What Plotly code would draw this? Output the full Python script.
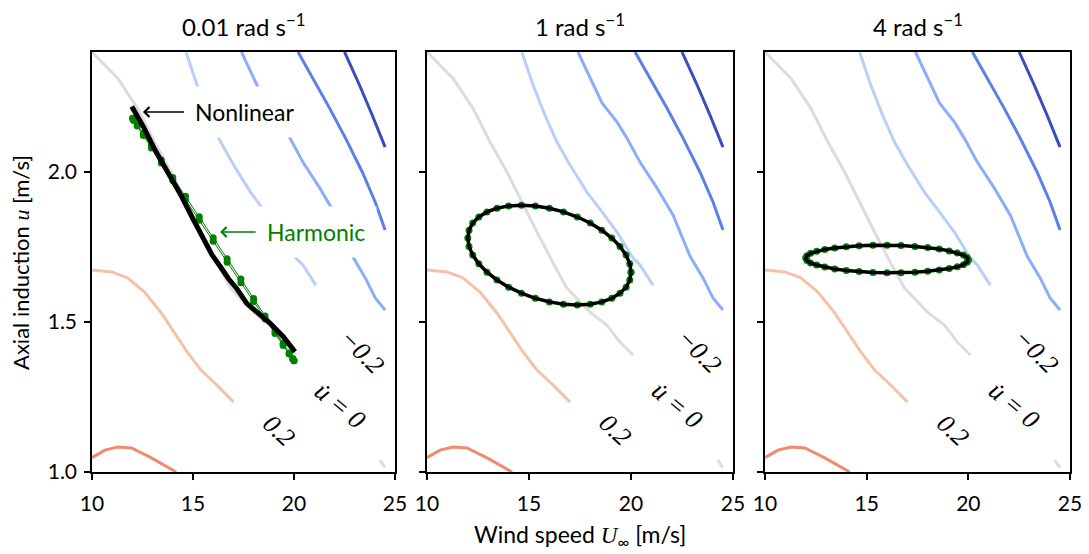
import plotly.graph_objects as go

# ---------------- data ----------------
panel_titles = ["0.01 rad s<sup>−1</sup>", "1 rad s<sup>−1</sup>", "4 rad s<sup>−1</sup>"]
x_ticks = [10, 15, 20, 25]
y_ticks = [1.0, 1.5, 2.0]
y_tick_text = ["1.0", "1.5", "2.0"]

# contour lines of du/dt (same background in every panel)
contour_levels = [-0.8, -0.6, -0.4, -0.2, 0.0, 0.0, 0.2, 0.4]
contour_colors = ["#3a4cc0", "#5d7fe8", "#8cadfa", "#b9cff8", "#dcdcdc", "#dcdcdc", "#f5c2a9", "#ef8c6e"]
c_m08_U = [22.5, 23.24, 23.87, 24.51]
c_m08_u = [2.40, 2.29, 2.19, 2.083]
c_m06_U = [20.20, 20.93, 21.76, 22.55, 23.38, 24.02, 24.51]
c_m06_u = [2.40, 2.313, 2.213, 2.113, 2.0, 1.90, 1.807]
c_m04_U = [17.40, 17.99, 18.58, 19.31, 19.80, 20.44, 21.27, 22.06, 22.89, 23.53, 24.02, 24.51]
c_m04_u = [2.40, 2.313, 2.23, 2.167, 2.113, 2.033, 1.947, 1.857, 1.72, 1.647, 1.58, 1.54]
c_m02_U = [14.65, 15.20, 15.78, 16.37, 17.01, 17.84, 18.58, 19.31, 20.10, 20.44, 21.08]
c_m02_u = [2.40, 2.29, 2.19, 2.10, 2.023, 1.933, 1.867, 1.80, 1.713, 1.69, 1.623]
c_0a_U = [10.0, 10.15, 11.27, 12.25, 13.09, 13.92, 14.71, 15.39, 16.18, 16.86, 17.99, 18.82, 19.46, 20.10]
c_0a_u = [2.40, 2.39, 2.313, 2.213, 2.10, 2.0, 1.89, 1.80, 1.697, 1.613, 1.533, 1.49, 1.433, 1.39]
c_0b_U = [24.25, 24.5]
c_0b_u = [1.04, 1.015]
c_p02_U = [10.0, 10.98, 11.76, 12.60, 13.43, 14.07, 14.71, 15.39, 16.18, 17.01]
c_p02_u = [1.673, 1.667, 1.647, 1.60, 1.53, 1.467, 1.40, 1.34, 1.29, 1.233]
c_p04_U = [10.0, 10.64, 11.27, 11.96, 12.94, 14.17]
c_p04_u = [1.048, 1.073, 1.083, 1.08, 1.047, 1.0]
contour_U = [c_m08_U, c_m06_U, c_m04_U, c_m02_U, c_0a_U, c_0b_U, c_p02_U, c_p04_U]
contour_u = [c_m08_u, c_m06_u, c_m04_u, c_m02_u, c_0a_u, c_0b_u, c_p02_u, c_p04_u]

# contour labels
clabel_text = ["−0.2", "u\u0307 = 0", "0.2"]
clabel_U = [23.35, 22.28, 19.26]
clabel_u = [1.401, 1.223, 1.14]
clabel_angle = [45, 40, 43]

# harmonic (linearised) response, sampled wind speed over one period
U_harm = [20.00, 19.94, 19.76, 19.46, 19.06, 18.57, 18.00, 17.37, 16.69, 16.00, 15.31, 14.63,
          14.00, 13.43, 12.94, 12.54, 12.24, 12.06, 12.00, 12.06, 12.24, 12.54, 12.94, 13.43,
          14.00, 14.63, 15.31, 16.00, 16.69, 17.37, 18.00, 18.57, 19.06, 19.46, 19.76, 19.94, 20.00]
u_harm_001 = [1.371, 1.378, 1.397, 1.428, 1.470, 1.520, 1.578, 1.643, 1.711, 1.781, 1.851, 1.919,
              1.982, 2.040, 2.088, 2.128, 2.157, 2.174, 2.179, 2.172, 2.153, 2.122, 2.080, 2.030,
              1.972, 1.907, 1.839, 1.769, 1.699, 1.631, 1.568, 1.510, 1.462, 1.422, 1.393, 1.376, 1.371]
u_harm_1 = [1.666, 1.694, 1.723, 1.752, 1.780, 1.806, 1.830, 1.850, 1.867, 1.879, 1.887, 1.889,
            1.887, 1.879, 1.867, 1.850, 1.830, 1.806, 1.780, 1.752, 1.723, 1.694, 1.666, 1.640,
            1.616, 1.596, 1.579, 1.567, 1.559, 1.557, 1.559, 1.567, 1.579, 1.596, 1.616, 1.640, 1.666]
u_harm_4 = [1.707, 1.715, 1.723, 1.730, 1.737, 1.743, 1.748, 1.752, 1.755, 1.756, 1.756, 1.754,
            1.751, 1.747, 1.742, 1.736, 1.729, 1.721, 1.713, 1.705, 1.697, 1.690, 1.683, 1.677,
            1.672, 1.668, 1.665, 1.664, 1.664, 1.666, 1.669, 1.673, 1.678, 1.684, 1.691, 1.699, 1.707]

# nonlinear response
U_nl_001 = [11.97, 12.54, 13.12, 13.78, 14.44, 14.94, 15.43, 15.93, 16.40, 16.75, 17.16, 17.66, 18.15, 18.81, 19.47, 20.05]
u_nl_001 = [2.218, 2.151, 2.073, 1.996, 1.918, 1.851, 1.784, 1.725, 1.680, 1.645, 1.612, 1.562, 1.534, 1.496, 1.451, 1.401]
U_nl_1 = U_harm
u_nl_1 = u_harm_1
U_nl_4 = U_harm
u_nl_4 = u_harm_4

harm_U = [U_harm, U_harm, U_harm]
harm_u = [u_harm_001, u_harm_1, u_harm_4]
nl_U = [U_nl_001, U_nl_1, U_nl_4]
nl_u = [u_nl_001, u_nl_1, u_nl_4]
nl_width = [5, 3.5, 3.5]

# ---------------- figure ----------------
OFF = 8                      # page body margin
W, H = 1089 - OFF, 554 - OFF
def px(p):
    return (p - OFF) / W
def py(p):
    return 1 - (p - OFF) / H

x_domains = [[px(92), px(395)], [px(427), px(733)], [px(765), px(1070)]]
y_domain = [py(472), py(52)]
FONT = "Lato, 'Source Sans Pro', sans-serif"
SERIF = "'Liberation Serif', 'Times New Roman', serif"

fig = go.Figure()
for p in range(3):
    xa = "x" if p == 0 else f"x{p+1}"
    ya = "y" if p == 0 else f"y{p+1}"
    for U, u, c in zip(contour_U, contour_u, contour_colors):
        fig.add_trace(go.Scatter(x=U, y=u, mode="lines", line=dict(color=c, width=3),
                                 xaxis=xa, yaxis=ya, showlegend=False, hoverinfo="skip"))
    fig.add_trace(go.Scatter(x=harm_U[p], y=harm_u[p], mode="lines+markers",
                             line=dict(color="green", width=1),
                             marker=dict(color="green", size=7),
                             xaxis=xa, yaxis=ya, showlegend=False))
    fig.add_trace(go.Scatter(x=nl_U[p], y=nl_u[p], mode="lines",
                             line=dict(color="black", width=nl_width[p]),
                             xaxis=xa, yaxis=ya, showlegend=False))
    for t, cu, cv, ang in zip(clabel_text, clabel_U, clabel_u, clabel_angle):
        fig.add_annotation(x=cu, y=cv, xref=xa, yref=ya, text=f"<i>{t}</i>", showarrow=False,
                           textangle=ang, font=dict(family=SERIF, size=26, color="black"))
    fig.add_annotation(x=sum(x_domains[p]) / 2, y=py(25), xref="paper", yref="paper",
                       text=panel_titles[p], showarrow=False, xanchor="center", yanchor="middle",
                       font=dict(family=FONT, size=24, color="black"))

axis_common = dict(showline=True, mirror=True, linecolor="black", linewidth=1.5,
                   ticks="outside", ticklen=6, tickwidth=1.5, tickcolor="black",
                   showgrid=False, zeroline=False, automargin=False,
                   tickfont=dict(family=FONT, size=21, color="black"))
layout = dict(width=W, height=H, margin=dict(l=0, r=0, t=0, b=0, pad=0, autoexpand=False),
              paper_bgcolor="white", plot_bgcolor="white", showlegend=False)
for p in range(3):
    xk = "xaxis" if p == 0 else f"xaxis{p+1}"
    yk = "yaxis" if p == 0 else f"yaxis{p+1}"
    xa = "x" if p == 0 else f"x{p+1}"
    ya = "y" if p == 0 else f"y{p+1}"
    ax = dict(axis_common)
    ax.update(domain=x_domains[p], range=[10, 25], tickvals=x_ticks, anchor=ya,
              ticklabelstandoff=6)
    ay = dict(axis_common)
    ay.update(domain=y_domain, range=[1.0, 2.4], tickvals=y_ticks, ticktext=y_tick_text,
              anchor=xa, showticklabels=(p == 0), ticklabelstandoff=3)
    layout[xk] = ax
    layout[yk] = ay
fig.update_layout(**layout)

# axis titles
fig.add_annotation(x=px(580), y=py(535), xref="paper", yref="paper", showarrow=False,
                   xanchor="center", yanchor="middle",
                   text="Wind speed <span style=\"font-family:'Liberation Serif'\"><i>U</i></span><sub>∞</sub> [m/s]",
                   font=dict(family=FONT, size=23, color="black"))
fig.add_annotation(x=px(20), y=py(263), xref="paper", yref="paper", showarrow=False,
                   xanchor="center", yanchor="middle", textangle=-90,
                   text="Axial induction <span style=\"font-family:'Liberation Serif'\"><i>u</i></span> [m/s]",
                   font=dict(family=FONT, size=22, color="black"))

# labels with arrows (panel 1)
fig.add_annotation(x=12.52, y=2.2, xref="x", yref="y", text="Nonlinear", showarrow=True,
                   ax=102, ay=0, arrowhead=4, arrowsize=1.3, arrowwidth=1.5, arrowcolor="black",
                   bgcolor="white", borderpad=11,
                   font=dict(family=FONT, size=23, color="black"))
fig.add_annotation(x=16.34, y=1.80, xref="x", yref="y", text="Harmonic", showarrow=True,
                   ax=96, ay=0, arrowhead=4, arrowsize=1.3, arrowwidth=1.5, arrowcolor="green",
                   bgcolor="white", borderpad=11,
                   font=dict(family=FONT, size=23, color="green"))

fig.write_html("out.html")
